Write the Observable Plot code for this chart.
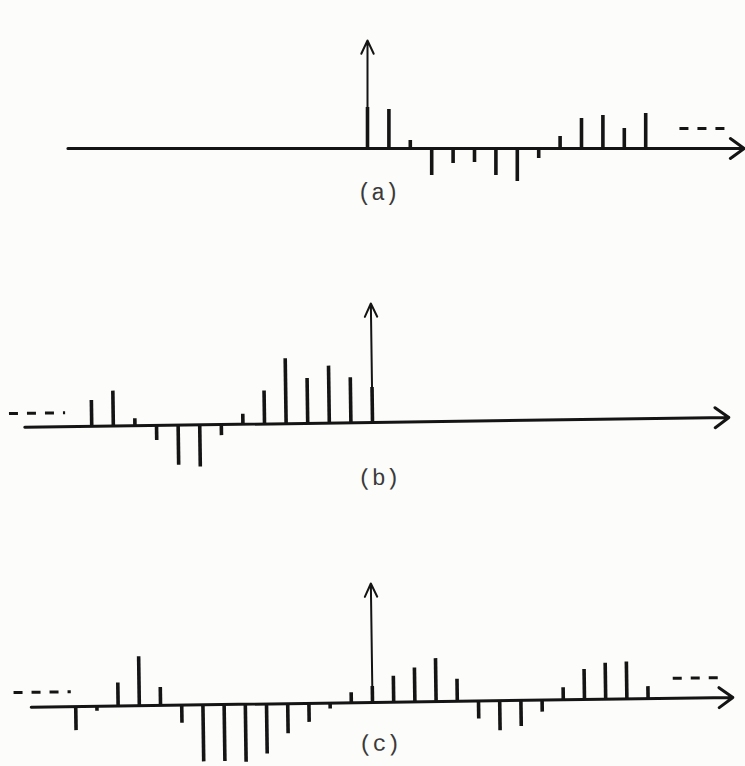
<!DOCTYPE html>
<html>
<head>
<meta charset="utf-8">
<script src="https://cdn.jsdelivr.net/npm/d3@7"></script>
<script src="https://cdn.jsdelivr.net/npm/@observablehq/plot@0.6"></script>
<style>
  html, body { margin: 0; padding: 0; background: #fcfcfa; overflow: hidden; }
  #chart { position: relative; width: 745px; height: 766px; overflow: hidden; }
  #chart svg { position: absolute; left: 0; background: transparent; overflow: visible; }
</style>
</head>
<body>
<div id="chart"></div>
<script>
// ---- Panel (a): one-sided sequence, n = 0 .. 13
const indexA  = [0, 1, 2, 3, 4, 5, 6, 7, 8, 9, 10, 11, 12, 13];
const valuesA = [41, 39, 8, -27, -15, -14, -27, -33, -10, 12, 30, 33, 20, 35];
const impulseA = 108;
const axisA = [-14, 17.6];
const dashesA = [{x1: 14.6, x2: 16.8, y: 20}];
const labelA = "(a)";

// ---- Panel (b): left-sided sequence, n = -13 .. 0
const indexB  = [-13, -12, -11, -10, -9, -8, -7, -6, -5, -4, -3, -2, -1, 0];
const valuesB = [26, 35, 7, -15, -40, -42, -11, 10, 33, 65, 45, 57, 45, 35];
const impulseB = 119;
const axisB = [-16.1, 16.5];
const dashesB = [{x1: -16.8, x2: -14.2, y: 14}];
const labelB = "(b)";

// ---- Panel (c): two-sided sequence, n = -14 .. 13
const indexC  = [-14, -13, -12, -11, -10, -9, -8, -7, -6, -5, -4, -3, -2, -1, 0,
                 1, 2, 3, 4, 5, 6, 7, 8, 9, 10, 11, 12, 13];
const valuesC = [-24, -5, 23, 49, 18, -18, -57, -57, -58, -50, -30, -19, -6, 10, 16,
                 26, 34, 43, 22, -18, -30, -26, -12, 12, 30, 36, 37, 12];
const impulseC = 119;
const axisC = [-16.1, 17.0];
const dashesC = [{x1: -16.9, x2: -14.2, y: 15}, {x1: 14.2, x2: 16.5, y: 20}];
const labelC = "(c)";

const ink = "#141414";
const W = 745;
const yDomain = [-70, 125];
const H = yDomain[1] - yDomain[0];

const panels = [
  {index: indexA, values: valuesA, impulse: impulseA, axis: axisA, dashes: dashesA,
   label: labelA, labelPos: [0.5, -44], zero: 367, step: 21.4, baseline: 148, tilt: 0},
  {index: indexB, values: valuesB, impulse: impulseB, axis: axisB, dashes: dashesB,
   label: labelB, labelPos: [0.25, -55], zero: 372, step: 21.6, baseline: 422, tilt: -0.8},
  {index: indexC, values: valuesC, impulse: impulseC, axis: axisC, dashes: dashesC,
   label: labelC, labelPos: [0.3, -41], zero: 372, step: 21.2, baseline: 702, tilt: -0.8}
];

const chart = document.getElementById("chart");

for (const p of panels) {
  const stems = p.index.map((i, k) => ({i, v: p.values[k]}));
  const svg = Plot.plot({
    width: W,
    height: H,
    marginTop: 0, marginBottom: 0, marginLeft: 0, marginRight: 0,
    x: {domain: [-p.zero / p.step, (W - p.zero) / p.step], axis: null},
    y: {domain: yDomain, axis: null},
    style: {background: "transparent", overflow: "visible"},
    marks: [
      // horizontal axis with arrowhead
      Plot.arrow([{x1: p.axis[0], x2: p.axis[1]}], {
        x1: "x1", x2: "x2", y1: 0, y2: 0,
        stroke: ink, strokeWidth: 3, headLength: 8.5, headAngle: 72
      }),
      // continuation dashes
      Plot.ruleY(p.dashes, {
        y: "y", x1: "x1", x2: "x2",
        stroke: ink, strokeWidth: 3, strokeDasharray: "9,9"
      }),
      // sample stems
      Plot.ruleX(stems, {
        x: "i", y1: 0, y2: "v",
        stroke: ink, strokeWidth: 3.6
      }),
      // impulse at n = 0
      Plot.arrow([{x: 0, top: p.impulse}], {
        x1: "x", x2: "x", y1: 0, y2: "top",
        stroke: ink, strokeWidth: 2, headLength: 11, headAngle: 50
      }),
      // panel label
      Plot.text([{x: p.labelPos[0], y: p.labelPos[1], t: p.label}], {
        x: "x", y: "y", text: "t",
        fontSize: 23, fontFamily: "Liberation Mono", fill: "#3a3a3a"
      })
    ]
  });
  svg.style.top = (p.baseline - yDomain[1]) + "px";
  svg.style.transformOrigin = p.zero + "px " + yDomain[1] + "px";
  svg.style.transform = "rotate(" + p.tilt + "deg)";
  chart.appendChild(svg);
}
</script>
</body>
</html>
